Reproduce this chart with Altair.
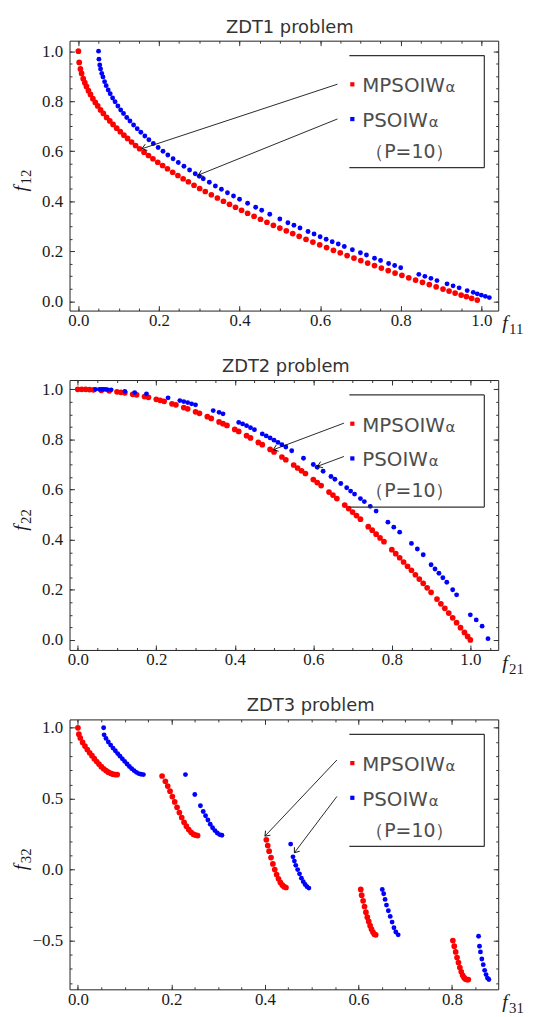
import math
import altair as alt
import pandas as pd

RED = "#ff0000"
BLUE = "#0000ff"
INK = "#333333"
W, H = 432, 272
SERIES = ["MPSOIWα", "PSOIWα"]

# ---------------- ZDT1 ----------------
ZDT1_MPSO_X = [0.0, 0.002, 0.005, 0.008, 0.012, 0.016, 0.02, 0.025, 0.03, 0.036,
               0.042, 0.048, 0.055, 0.062, 0.07, 0.078, 0.086, 0.095, 0.104, 0.113,
               0.122, 0.132, 0.142, 0.152, 0.163, 0.174, 0.185, 0.197, 0.209, 0.221,
               0.234, 0.247, 0.26, 0.273, 0.287, 0.301, 0.315, 0.33, 0.345, 0.36,
               0.375, 0.39, 0.405, 0.42, 0.436, 0.452, 0.468, 0.484, 0.5, 0.516,
               0.532, 0.548, 0.565, 0.582, 0.599, 0.616, 0.633, 0.65, 0.667, 0.684,
               0.701, 0.718, 0.735, 0.752, 0.769, 0.786, 0.803, 0.82, 0.837, 0.854,
               0.871, 0.888, 0.905, 0.92, 0.935, 0.95, 0.963, 0.976, 0.99]
ZDT1_MPSO_Y = [1.0, 0.955, 0.929, 0.911, 0.89, 0.874, 0.859, 0.842, 0.827, 0.81,
               0.795, 0.781, 0.765, 0.751, 0.735, 0.721, 0.707, 0.692, 0.678, 0.664,
               0.651, 0.637, 0.623, 0.61, 0.596, 0.583, 0.57, 0.556, 0.543, 0.53,
               0.516, 0.503, 0.49, 0.478, 0.464, 0.451, 0.439, 0.426, 0.413, 0.4,
               0.388, 0.376, 0.364, 0.352, 0.34, 0.328, 0.316, 0.304, 0.293, 0.282,
               0.271, 0.26, 0.248, 0.237, 0.226, 0.215, 0.204, 0.194, 0.183, 0.173,
               0.163, 0.153, 0.143, 0.133, 0.123, 0.113, 0.104, 0.094, 0.085, 0.076,
               0.067, 0.058, 0.049, 0.041, 0.033, 0.025, 0.019, 0.012, 0.005]
ZDT1_PSO_X = [0.05, 0.051, 0.053, 0.055, 0.058, 0.061, 0.065, 0.069, 0.074, 0.079,
              0.085, 0.091, 0.098, 0.105, 0.112, 0.12, 0.128, 0.137, 0.146, 0.155,
              0.165, 0.175, 0.186, 0.198, 0.21, 0.222, 0.235, 0.248, 0.262, 0.276,
              0.29, 0.3, 0.31, 0.325, 0.34, 0.355, 0.37, 0.385, 0.4, 0.42,
              0.44, 0.455, 0.475, 0.5, 0.52, 0.535, 0.55, 0.57, 0.585, 0.6,
              0.615, 0.63, 0.645, 0.66, 0.68, 0.7, 0.715, 0.735, 0.75, 0.77,
              0.785, 0.8, 0.845, 0.86, 0.875, 0.89, 0.915, 0.93, 0.945, 0.965,
              0.98, 0.99, 1.0, 1.01, 1.02]
ZDT1_PSO_Y = [1.0, 0.968, 0.945, 0.929, 0.911, 0.897, 0.878, 0.862, 0.845, 0.83,
              0.813, 0.798, 0.781, 0.765, 0.751, 0.735, 0.721, 0.705, 0.69, 0.676,
              0.661, 0.646, 0.631, 0.615, 0.6, 0.585, 0.57, 0.555, 0.54, 0.525,
              0.51, 0.5, 0.49, 0.476, 0.461, 0.448, 0.434, 0.421, 0.408, 0.392,
              0.376, 0.364, 0.348, 0.329, 0.314, 0.304, 0.293, 0.279, 0.269, 0.258,
              0.248, 0.238, 0.229, 0.219, 0.206, 0.194, 0.185, 0.172, 0.163, 0.151,
              0.143, 0.134, 0.108, 0.1, 0.092, 0.083, 0.07, 0.062, 0.054, 0.043,
              0.036, 0.03, 0.025, 0.02, 0.015]

# ---------------- ZDT2 ----------------
ZDT2_MPSO_X = [0.0, 0.01, 0.02, 0.03, 0.04, 0.06, 0.08, 0.1, 0.11, 0.12,
               0.14, 0.15, 0.17, 0.18, 0.2, 0.21, 0.22, 0.24, 0.25, 0.27,
               0.28, 0.3, 0.31, 0.33, 0.34, 0.36, 0.37, 0.38, 0.4, 0.41,
               0.43, 0.44, 0.46, 0.47, 0.49, 0.5, 0.52, 0.53, 0.55, 0.56,
               0.57, 0.58, 0.6, 0.61, 0.62, 0.64, 0.65, 0.66, 0.68, 0.69,
               0.7, 0.71, 0.72, 0.74, 0.75, 0.76, 0.77, 0.78, 0.8, 0.81,
               0.82, 0.83, 0.84, 0.85, 0.86, 0.87, 0.88, 0.89, 0.9, 0.915,
               0.925, 0.935, 0.945, 0.955, 0.965, 0.975, 0.985, 0.993, 1.0]
ZDT2_MPSO_Y = [1.0, 1.0, 1.0, 0.999, 0.998, 0.996, 0.994, 0.99, 0.988, 0.986,
               0.98, 0.978, 0.971, 0.968, 0.96, 0.956, 0.952, 0.942, 0.938, 0.927,
               0.922, 0.91, 0.904, 0.891, 0.884, 0.87, 0.863, 0.856, 0.84, 0.832,
               0.815, 0.806, 0.788, 0.779, 0.76, 0.75, 0.73, 0.719, 0.698, 0.686,
               0.675, 0.664, 0.64, 0.628, 0.616, 0.59, 0.578, 0.564, 0.538, 0.524,
               0.51, 0.496, 0.482, 0.452, 0.438, 0.422, 0.407, 0.392, 0.36, 0.344,
               0.328, 0.311, 0.294, 0.278, 0.26, 0.243, 0.226, 0.208, 0.19, 0.163,
               0.144, 0.126, 0.107, 0.088, 0.069, 0.049, 0.03, 0.014, 0.0]
ZDT2_PSO_X = [0.045, 0.055, 0.06, 0.065, 0.07, 0.075, 0.085, 0.12, 0.145, 0.175,
              0.23, 0.26, 0.27, 0.28, 0.29, 0.3, 0.345, 0.36, 0.37, 0.41,
              0.42, 0.43, 0.44, 0.45, 0.47, 0.48, 0.49, 0.5, 0.51, 0.52,
              0.53, 0.545, 0.575, 0.6, 0.61, 0.625, 0.645, 0.655, 0.67, 0.685,
              0.695, 0.705, 0.72, 0.73, 0.745, 0.76, 0.79, 0.805, 0.82, 0.85,
              0.865, 0.88, 0.9, 0.91, 0.92, 0.93, 0.94, 0.955, 0.965, 1.0,
              1.015, 1.03, 1.045]
ZDT2_PSO_Y = [1.0, 1.0, 1.0, 1.0, 1.0, 0.999, 0.998, 0.992, 0.987, 0.982,
              0.966, 0.955, 0.951, 0.947, 0.942, 0.938, 0.915, 0.908, 0.902, 0.868,
              0.862, 0.855, 0.847, 0.839, 0.822, 0.814, 0.806, 0.797, 0.788, 0.779,
              0.77, 0.755, 0.725, 0.7, 0.689, 0.673, 0.652, 0.641, 0.624, 0.607,
              0.594, 0.582, 0.564, 0.552, 0.533, 0.514, 0.47, 0.45, 0.43, 0.385,
              0.363, 0.34, 0.3, 0.283, 0.266, 0.248, 0.23, 0.2, 0.18, 0.1,
              0.08, 0.055, 0.005]

# ---------------- ZDT3 ----------------
ZDT3_MPSO_X = [0.0, 0.002, 0.005, 0.01, 0.015, 0.02, 0.025, 0.03, 0.035, 0.04,
               0.045, 0.05, 0.055, 0.06, 0.065, 0.07, 0.075, 0.08, 0.084,
               0.18, 0.187, 0.192, 0.197, 0.202, 0.207, 0.212, 0.217, 0.222, 0.227,
               0.232, 0.237, 0.242, 0.247, 0.252, 0.256,
               0.403, 0.406, 0.409, 0.413, 0.417, 0.421, 0.425, 0.429, 0.433, 0.437,
               0.441, 0.445,
               0.605, 0.607, 0.61, 0.613, 0.616, 0.619, 0.622, 0.625, 0.628, 0.631,
               0.634, 0.637,
               0.802, 0.805, 0.808, 0.811, 0.814, 0.817, 0.82, 0.823, 0.826, 0.829,
               0.832, 0.835]
ZDT3_MPSO_Y = [1.0, 0.955, 0.928, 0.897, 0.871, 0.847, 0.824, 0.803, 0.782, 0.762,
               0.744, 0.726, 0.711, 0.698, 0.687, 0.679, 0.673, 0.67, 0.67,
               0.66, 0.623, 0.589, 0.553, 0.515, 0.477, 0.439, 0.402, 0.367, 0.334,
               0.306, 0.282, 0.263, 0.25, 0.243, 0.24,
               0.21, 0.17, 0.13, 0.085, 0.04, 0.0, -0.035, -0.065, -0.09, -0.108,
               -0.12, -0.126,
               -0.14, -0.18, -0.22, -0.26, -0.3, -0.335, -0.365, -0.395, -0.42, -0.44,
               -0.455, -0.46,
               -0.5, -0.54, -0.58, -0.62, -0.655, -0.69, -0.72, -0.745, -0.762, -0.772,
               -0.775, -0.775]
ZDT3_PSO_X = [0.055, 0.056, 0.06, 0.065, 0.07, 0.075, 0.08, 0.085, 0.09, 0.095,
              0.1, 0.105, 0.11, 0.115, 0.12, 0.125, 0.13, 0.135, 0.14,
              0.23, 0.25, 0.262, 0.268, 0.273, 0.278, 0.283, 0.288, 0.293, 0.298,
              0.303, 0.308,
              0.455, 0.46, 0.463, 0.466, 0.47, 0.474, 0.478, 0.482, 0.486, 0.49, 0.494,
              0.651, 0.654, 0.657, 0.66, 0.664, 0.668, 0.672, 0.676, 0.68, 0.685,
              0.857, 0.859, 0.861, 0.864, 0.867, 0.87, 0.873, 0.876, 0.879]
ZDT3_PSO_Y = [1.0, 0.95, 0.925, 0.9, 0.878, 0.857, 0.838, 0.818, 0.8, 0.781,
              0.763, 0.745, 0.727, 0.712, 0.698, 0.686, 0.677, 0.672, 0.67,
              0.67, 0.53, 0.45, 0.41, 0.38, 0.35, 0.32, 0.295, 0.275, 0.258,
              0.247, 0.242,
              0.18, 0.09, 0.06, 0.03, 0.0, -0.03, -0.06, -0.085, -0.105, -0.12, -0.13,
              -0.14, -0.17, -0.21, -0.25, -0.29, -0.33, -0.37, -0.41, -0.44, -0.46,
              -0.47, -0.54, -0.58, -0.63, -0.67, -0.71, -0.74, -0.765, -0.775]

# Annotation arrows (start near legend marker -> tip on the curve), data units
ZDT1_ARROWS = dict(sx=[0.643, 0.643], sy=[0.868, 0.729], ex=[0.158, 0.298], ey=[0.61, 0.505])
ZDT2_ARROWS = dict(sx=[0.678, 0.678], sy=[0.865, 0.732], ex=[0.498, 0.611], ey=[0.759, 0.693])
ZDT3_ARROWS = dict(sx=[0.554, 0.554], sy=[0.773, 0.516], ex=[0.40, 0.463], ey=[0.236, 0.119])

# Tick values
X_MAJOR_1 = [0.0, 0.2, 0.4, 0.6, 0.8, 1.0]
X_MINOR_1 = [round(0.05 * i, 2) for i in range(21)]
X_MINOR_2 = [round(0.05 * i, 2) for i in range(22)]
Y_MAJOR_1 = [0.0, 0.2, 0.4, 0.6, 0.8, 1.0]
Y_MINOR_1 = [round(0.05 * i, 2) for i in range(21)]
X_MAJOR_3 = [0.0, 0.2, 0.4, 0.6, 0.8]
X_MINOR_3 = [round(0.05 * i, 2) for i in range(18)]
Y_MAJOR_3 = [-0.5, 0.0, 0.5, 1.0]
Y_MINOR_3 = [round(-0.8 + 0.1 * i, 1) for i in range(19)]

CHEVRON = "M -0.75 1 L 0 0 L 0.75 1"
ONE = pd.DataFrame({"k": [0]})


def axis(orient, values, size, labels, fmt=".1f"):
    kw = dict(orient=orient, values=values, tickSize=size, offset=-size, domain=False,
              grid=False, labels=labels, title=None, ticks=True, tickColor=INK,
              tickWidth=1, labelFlush=False, labelOverlap=False, minExtent=0)
    if labels:
        kw.update(format=fmt, labelFont="Liberation Serif", labelFontSize=17,
                  labelColor="#1a1a1a",
                  labelPadding=7 if orient in ("left", "right") else 2)
    return alt.Axis(**kw)


def txt(s, x, y, size=18, font="DejaVu Sans", style="normal", color="#4d4d4d", angle=0,
        align="left"):
    return alt.Chart(ONE).mark_text(
        text=s, align=align, baseline="alphabetic", font=font, fontSize=size,
        fontStyle=style, color=color, angle=angle
    ).encode(x=alt.value(x), y=alt.value(y))


def panel(title, dx, xr, yr, xb, yb, xdom, ydom, xmaj, xmin, ymaj, ymin, ar, xsub, ysub):
    assert len(xr) == len(yr) and len(xb) == len(yb)
    pts = pd.DataFrame({"x": xr + xb, "y": yr + yb,
                        "s": [SERIES[0]] * len(xr) + [SERIES[1]] * len(xb)})
    xs = alt.Scale(domain=xdom, nice=False, zero=False)
    ys = alt.Scale(domain=ydom, nice=False, zero=False)
    base = alt.Chart(pts)
    points = base.mark_circle(opacity=1).encode(
        x=alt.X("x:Q", scale=xs, axis=axis("bottom", xmaj, 5, True)),
        y=alt.Y("y:Q", scale=ys, axis=axis("left", ymaj, 5, True)),
        color=alt.Color("s:N", scale=alt.Scale(domain=SERIES, range=[RED, BLUE]), legend=None),
        size=alt.Size("s:N", scale=alt.Scale(domain=SERIES, range=[33, 24]), legend=None),
    )

    def ghost(xa, ya):
        return base.mark_point(opacity=0, size=1).encode(
            x=alt.X("x:Q", scale=xs, axis=xa), y=alt.Y("y:Q", scale=ys, axis=ya))

    g1 = ghost(axis("bottom", xmin, 2.5, False), axis("left", ymin, 2.5, False))
    g2 = ghost(axis("top", xmaj, 5, False), axis("right", ymaj, 5, False))
    g3 = ghost(axis("top", xmin, 2.5, False), axis("right", ymin, 2.5, False))

    kx = W / (xdom[1] - xdom[0])
    ky = H / (ydom[1] - ydom[0])
    ang = [math.degrees(math.atan2((ex - sx) * kx, (ey - sy) * ky)) % 360
           for sx, sy, ex, ey in zip(ar["sx"], ar["sy"], ar["ex"], ar["ey"])]
    adf = pd.DataFrame({**ar, "ang": ang})
    lines = alt.Chart(adf).mark_rule(color="#111111", strokeWidth=0.9).encode(
        x=alt.X("sx:Q", scale=xs, axis=None), y=alt.Y("sy:Q", scale=ys, axis=None),
        x2="ex:Q", y2="ey:Q")
    heads = alt.Chart(adf).mark_point(shape=CHEVRON, filled=False, size=80, strokeWidth=0.9,
                                      color="#111111", opacity=1).encode(
        x=alt.X("ex:Q", scale=xs, axis=None), y=alt.Y("ey:Q", scale=ys, axis=None),
        angle=alt.Angle("ang:Q", scale=None))

    box_top = alt.Chart(ONE).mark_rule(color=INK, strokeWidth=1.2).encode(
        x=alt.value(282), x2=alt.value(418), y=alt.value(15))
    box_bot = alt.Chart(ONE).mark_rule(color=INK, strokeWidth=1.2).encode(
        x=alt.value(282), x2=alt.value(418), y=alt.value(128))
    box_right = alt.Chart(ONE).mark_rule(color=INK, strokeWidth=1.2).encode(
        x=alt.value(418), y=alt.value(15), y2=alt.value(128))
    sq_r = alt.Chart(ONE).mark_square(size=18, color=RED, opacity=1).encode(
        x=alt.value(285), y=alt.value(44))
    sq_b = alt.Chart(ONE).mark_square(size=18, color=BLUE, opacity=1).encode(
        x=alt.value(285), y=alt.value(79))

    layers = [points, g1, g2, g3, lines, heads, box_top, box_bot, box_right, sq_r, sq_b,
              txt(title, W / 2 + dx, -8, 18, color=INK, align="center"),
              txt("MPSOIW", 295, 52, 20), txt("α", 379, 52, 15),
              txt("PSOIW", 295, 87, 20), txt("α", 362, 87, 15),
              txt("（P=10）", 298, 118, 19),
              txt("f", W + 4, 291, 20, "Liberation Serif", "italic", "#1a1a1a"),
              txt(xsub, W + 11, 296, 15, "Liberation Serif", "normal", "#1a1a1a"),
              txt("f", -43, 152, 20, "Liberation Serif", "italic", "#1a1a1a", 270),
              txt(ysub, -39, 145, 15, "Liberation Serif", "normal", "#1a1a1a", 270)]
    return alt.layer(*layers).resolve_axis(x="independent", y="independent").properties(
        width=W, height=H)


p1 = panel("ZDT1 problem", 6, ZDT1_MPSO_X, ZDT1_MPSO_Y, ZDT1_PSO_X, ZDT1_PSO_Y,
           [-0.022, 1.042], [-0.037, 1.042], X_MAJOR_1, X_MINOR_1, Y_MAJOR_1, Y_MINOR_1,
           ZDT1_ARROWS, "11", "12")
p2 = panel("ZDT2 problem", 2, ZDT2_MPSO_X, ZDT2_MPSO_Y, ZDT2_PSO_X, ZDT2_PSO_Y,
           [-0.021, 1.071], [-0.04, 1.037], X_MAJOR_1, X_MINOR_2, Y_MAJOR_1, Y_MINOR_1,
           ZDT2_ARROWS, "21", "22")
p3 = panel("ZDT3 problem", 27, ZDT3_MPSO_X, ZDT3_MPSO_Y, ZDT3_PSO_X, ZDT3_PSO_Y,
           [-0.018, 0.899], [-0.844, 1.059], X_MAJOR_3, X_MINOR_3, Y_MAJOR_3, Y_MINOR_3,
           ZDT3_ARROWS, "31", "32")

chart = alt.vconcat(p1, p2, p3, spacing=70, bounds="flush").properties(
    padding={"left": 2, "top": 6, "right": 0, "bottom": 0}
).configure_view(stroke="#222222", strokeWidth=1)

chart.save("out.html", embed_options={"renderer": "svg", "actions": False})
